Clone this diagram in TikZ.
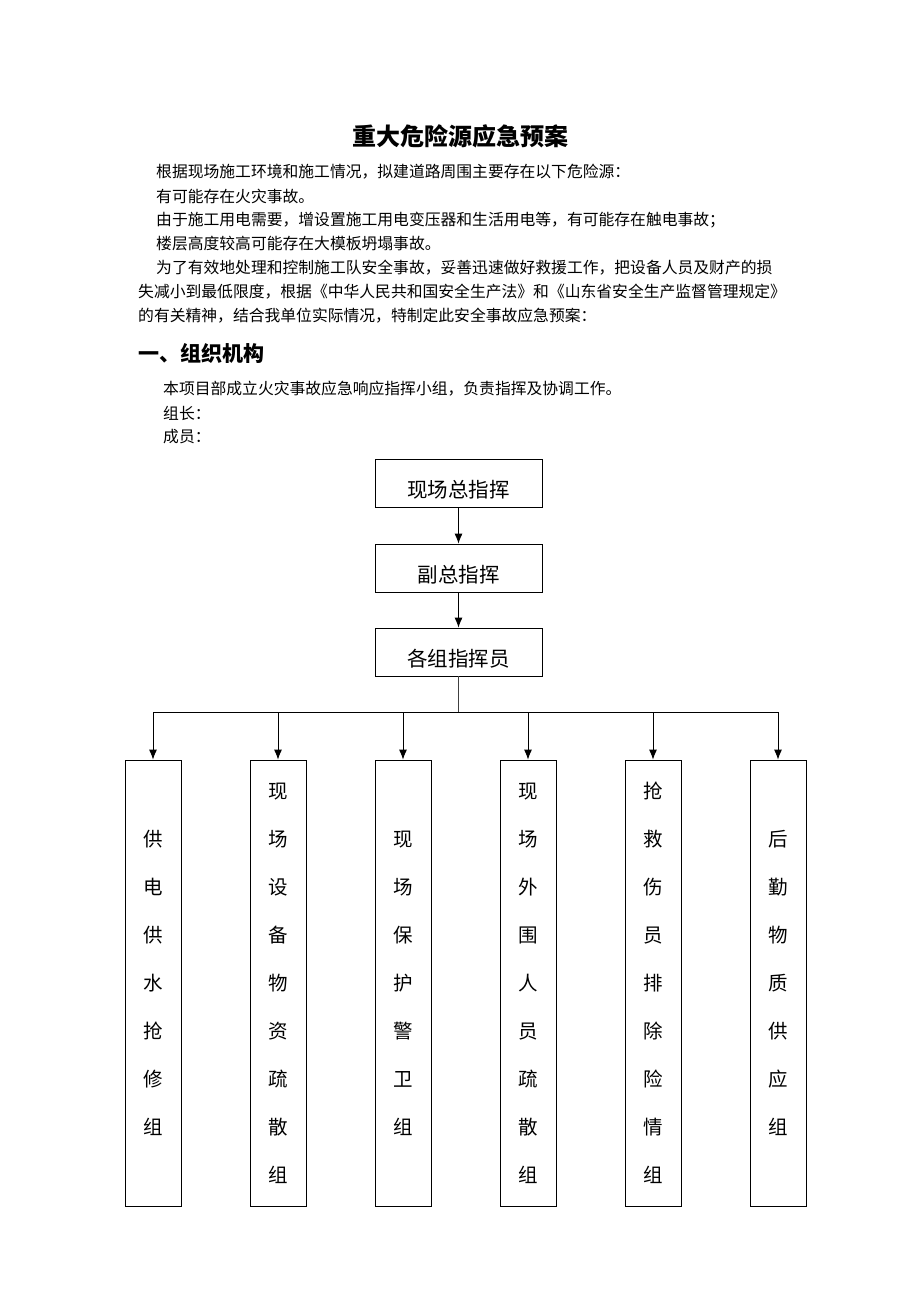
\documentclass[tikz,border=0pt]{standalone}
\usepackage{fontspec}
\newfontfamily\cjk{Noto Sans CJK SC}
\usetikzlibrary{arrows.meta}
\begin{document}
\begin{tikzpicture}[x=1pt,y=-1pt,
  txt/.style={anchor=west,inner sep=0pt,font=\cjk\fontsize{15.8}{20}\selectfont},
  hbox/.style={draw,line width=0.8pt,minimum width=167pt,minimum height=48pt,inner sep=0pt,text height=28pt,text depth=0pt,font=\cjk\fontsize{20.5}{24}\selectfont},
  vbox/.style={draw,line width=0.8pt,minimum width=56pt,minimum height=446pt,inner sep=0pt,align=center,font=\cjk\fontsize{19.5}{48}\selectfont},
  arr/.style={line width=0.9pt,-{Latex[length=10pt,width=8pt]}},
  link/.style={line width=0.9pt}]
\useasboundingbox (0,0) rectangle (920,1302);
\fill[white] (0,0) rectangle (920,1302);
% title and text
\node[inner sep=0pt,font=\cjk\bfseries\fontsize{24}{28}\selectfont] (title) at (460,136) {重大危险源应急预案};
\node[txt] (l1) at (156,172) {根据现场施工环境和施工情况，拟建道路周围主要存在以下危险源：};
\node[txt] (l2) at (156,196) {有可能存在火灾事故。};
\node[txt] (l3) at (156,220) {由于施工用电需要，增设置施工用电变压器和生活用电等，有可能存在触电事故；};
\node[txt] (l4) at (156,244) {楼层高度较高可能存在大模板坍塌事故。};
\node[txt] (l5) at (156,268) {为了有效地处理和控制施工队安全事故，妥善迅速做好救援工作，把设备人员及财产的损};
\node[txt] (l6) at (138,292) {失减小到最低限度，根据《中华人民共和国安全生产法》和《山东省安全生产监督管理规定》};
\node[txt] (l7) at (138,316) {的有关精神，结合我单位实际情况，特制定此安全事故应急预案：};
\node[anchor=west,inner sep=0pt,font=\cjk\bfseries\fontsize{21}{24}\selectfont] (h1) at (138,353) {一、组织机构};
\node[txt] (m1) at (163,389) {本项目部成立火灾事故应急响应指挥小组，负责指挥及协调工作。};
\node[txt] (m2) at (163,413) {组长：};
\node[txt] (m3) at (163,437) {成员：};
% chart
\node[hbox] (a) at (458.5,483) {现场总指挥};
\node[hbox] (b) at (458.5,568) {副总指挥};
\node[hbox] (c) at (458.5,652) {各组指挥员};
\node[vbox] (g1) at (153,983) {供\\电\\供\\水\\抢\\修\\组};
\node[vbox] (g2) at (278,983) {现\\场\\设\\备\\物\\资\\疏\\散\\组};
\node[vbox] (g3) at (403,983) {现\\场\\保\\护\\警\\卫\\组};
\node[vbox] (g4) at (528,983) {现\\场\\外\\围\\人\\员\\疏\\散\\组};
\node[vbox] (g5) at (653,983) {抢\\救\\伤\\员\\排\\除\\险\\情\\组};
\node[vbox] (g6) at (778,983) {后\\勤\\物\\质\\供\\应\\组};
\draw[arr] (a) -- (b);
\draw[arr] (b) -- (c);
\coordinate (bus) at (458.5,712);
\coordinate (busL) at (153,712);
\coordinate (busR) at (778,712);
\draw[link,black!75] (c.south) -- (bus);
\draw[link] (busL) -- (busR);
\foreach \i in {1,...,6}{
  \draw[arr] (g\i.north |- bus) -- (g\i.north);
}
\end{tikzpicture}
\end{document}
